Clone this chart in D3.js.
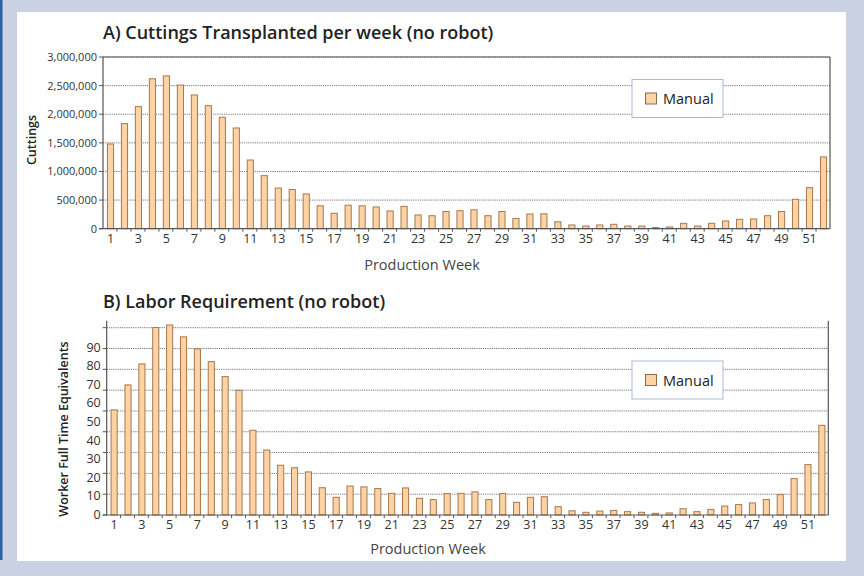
<!DOCTYPE html>
<html>
<head>
<meta charset="utf-8">
<script src="https://cdn.jsdelivr.net/npm/d3@7"></script>
<style>
  html, body { margin: 0; padding: 0; background: #c9d1e3; }
  svg { display: block; }
  text { font-family: "Open Sans", Lato, sans-serif; }
</style>
</head>
<body>
<svg id="chart" width="864" height="576"></svg>
<script>
// ---- Data ----
const weeks = d3.range(1, 53);
const cuttings = [
  1480000, 1836000, 2133000, 2620000, 2670000, 2510000, 2337000, 2150000, 1947000, 1760000,
  1200000, 927000, 710000, 685000, 607000, 400000, 270000, 410000, 400000, 380000,
  310000, 390000, 240000, 227000, 300000, 315000, 330000, 227000, 300000, 180000,
  257000, 260000, 120000, 65000, 47000, 65000, 77000, 47000, 47000, 20000,
  30000, 94000, 47000, 94000, 135000, 164000, 170000, 227000, 300000, 514000,
  717000, 1254000
];
const labor = [
  50.5, 62.5, 72.6, 90.1, 91.3, 85.6, 79.8, 73.7, 66.5, 59.9,
  40.7, 31.2, 23.9, 22.7, 20.7, 13.1, 8.5, 13.9, 13.5, 12.7,
  10.4, 13.0, 8.0, 7.4, 10.3, 10.4, 11.1, 7.4, 10.3, 6.1,
  8.5, 8.8, 4.0, 2.0, 1.3, 1.9, 2.2, 1.6, 1.3, 0.8,
  1.0, 3.0, 1.6, 2.7, 4.3, 5.0, 5.8, 7.4, 9.8, 17.5,
  24.2, 43.1
];
const cuttingTicks = [0, 500000, 1000000, 1500000, 2000000, 2500000, 3000000];
const laborGridTicks = [0, 10, 20, 30, 40, 50, 60, 70, 80, 90];
const laborLabelTicks = [0, 10, 20, 30, 40, 50, 60, 70, 80, 90];
const weekLabels = weeks.filter(w => w % 2 === 1);
const seriesName = "Manual";
const titleA = "A) Cuttings Transplanted per week (no robot)";
const titleB = "B) Labor Requirement (no robot)";
const yTitleA = "Cuttings";
const yTitleB = "Worker Full Time Equivalents";
const xTitle = "Production Week";

// ---- Styles ----
const barFill = "#fdd3a5";
const barStroke = "#a8774a";
const axisColor = "#555";
const gridColor = "#777";
const textColor = "#333";

const svg = d3.select("#chart");

// background and panel
svg.append("rect").attr("x", 0).attr("y", 0).attr("width", 864).attr("height", 576).attr("fill", "#c9d1e3");
svg.append("rect").attr("x", 0).attr("y", 0).attr("width", 2.5).attr("height", 560).attr("fill", "#2a62a3");
svg.append("rect").attr("x", 17).attr("y", 12).attr("width", 829).attr("height", 549).attr("fill", "#ffffff");

function drawPanel(cfg) {
  const g = svg.append("g");
  const x = d3.scaleBand().domain(weeks).range([cfg.left, cfg.right]).paddingInner(0.56).paddingOuter(0.28);
  const y = d3.scaleLinear().domain(cfg.yDomain).range([cfg.bottom, cfg.gridTopY]);

  // gridlines
  g.append("g").selectAll("line").data(cfg.gridTicks.filter(t => t > 0)).join("line")
    .attr("x1", cfg.left).attr("x2", cfg.right)
    .attr("y1", d => y(d)).attr("y2", d => y(d))
    .attr("stroke", gridColor).attr("stroke-width", 1)
    .attr("stroke-dasharray", "1.2,1");

  // bars
  g.append("g").selectAll("rect").data(cfg.values).join("rect")
    .attr("x", (d, i) => x(weeks[i]) + 0.5)
    .attr("y", d => y(d))
    .attr("width", x.bandwidth())
    .attr("height", d => cfg.bottom - y(d))
    .attr("fill", barFill)
    .attr("stroke", barStroke)
    .attr("stroke-width", 1);

  // frame / axes lines
  g.append("line").attr("x1", cfg.left).attr("x2", cfg.left).attr("y1", cfg.top).attr("y2", cfg.bottom)
    .attr("stroke", axisColor).attr("stroke-width", 1.2);
  g.append("line").attr("x1", cfg.right).attr("x2", cfg.right).attr("y1", cfg.top).attr("y2", cfg.bottom)
    .attr("stroke", axisColor).attr("stroke-width", 1.2);
  g.append("line").attr("x1", cfg.left - 4).attr("x2", cfg.right).attr("y1", cfg.bottom).attr("y2", cfg.bottom)
    .attr("stroke", axisColor).attr("stroke-width", 1.2);
  if (cfg.topBorder) {
    g.append("line").attr("x1", cfg.left).attr("x2", cfg.right).attr("y1", cfg.top).attr("y2", cfg.top)
      .attr("stroke", axisColor).attr("stroke-width", 1.2);
  }

  // x tick marks at band boundaries
  const step = x.step();
  g.append("g").selectAll("line").data(weeks.slice(1)).join("line")
    .attr("x1", d => x(d) - step * x.paddingInner() / 2)
    .attr("x2", d => x(d) - step * x.paddingInner() / 2)
    .attr("y1", cfg.bottom).attr("y2", cfg.bottom + 3)
    .attr("stroke", axisColor).attr("stroke-width", 1);

  // y tick marks
  g.append("g").selectAll("line").data(cfg.gridTicks).join("line")
    .attr("x1", cfg.left - 4).attr("x2", cfg.left)
    .attr("y1", d => y(d)).attr("y2", d => y(d))
    .attr("stroke", axisColor).attr("stroke-width", 1);

  // x labels
  g.append("g").selectAll("text").data(weekLabels).join("text")
    .attr("x", d => x(d) + x.bandwidth() / 2 + 0.5)
    .attr("y", cfg.bottom + 14)
    .attr("text-anchor", "middle")
    .attr("font-size", 12.5)
    .attr("fill", textColor)
    .text(d => d);

  // y labels
  const yl = cfg.labelScale || y;
  g.append("g").selectAll("text").data(cfg.labelTicks).join("text")
    .attr("x", cfg.left - 6)
    .attr("y", d => yl(d) + 4)
    .attr("text-anchor", "end")
    .attr("font-size", cfg.yLabelSize)
    .attr("fill", textColor)
    .text(d => cfg.fmt(d));

  // titles
  g.append("text").attr("x", 103).attr("y", cfg.titleY)
    .attr("font-size", 18).attr("font-weight", 600).attr("fill", "#222")
    .text(cfg.title);
  g.append("text").attr("x", cfg.xTitleX).attr("y", cfg.xTitleY)
    .attr("text-anchor", "middle").attr("font-size", 14.5).attr("fill", "#444")
    .text(xTitle);
  g.append("text")
    .attr("transform", `translate(${cfg.yTitleX},${cfg.yTitleY}) rotate(-90)`)
    .attr("text-anchor", "middle").attr("font-size", 12.5).attr("font-weight", 600).attr("fill", "#222")
    .text(cfg.yTitle);

  // legend
  const lg = g.append("g").attr("transform", `translate(632,${cfg.legendY})`);
  lg.append("rect").attr("x", 0).attr("y", 0).attr("width", 91).attr("height", 38)
    .attr("fill", "#fff").attr("stroke", "#a9b9dc").attr("stroke-width", 1);
  lg.append("rect").attr("x", 13.5).attr("y", 13.5).attr("width", 11).attr("height", 11)
    .attr("fill", barFill).attr("stroke", "#8a6a4a").attr("stroke-width", 1);
  lg.append("text").attr("x", 31).attr("y", 24.5).attr("font-size", 14.5).attr("fill", "#222").text(seriesName);
}

drawPanel({
  left: 103, right: 830, top: 57, bottom: 228.7, gridTopY: 57,
  yDomain: [0, 3000000], values: cuttings, gridTicks: cuttingTicks, labelTicks: cuttingTicks,
  fmt: d3.format(","), yLabelSize: 11, topBorder: true,
  title: titleA, titleY: 39, xTitleX: 422, xTitleY: 270, yTitle: yTitleA, yTitleX: 36, yTitleY: 140,
  legendY: 79.5
});

drawPanel({
  left: 106.7, right: 828.3, top: 320.7, bottom: 515, gridTopY: 327.7,
  yDomain: [0, 90], values: labor, gridTicks: laborGridTicks, labelTicks: laborLabelTicks,
  labelScale: d3.scaleLinear().domain([0, 90]).range([515, 347.7]),
  fmt: d => d, yLabelSize: 12.5, topBorder: false,
  title: titleB, titleY: 308, xTitleX: 428, xTitleY: 554, yTitle: yTitleB, yTitleX: 68, yTitleY: 429,
  legendY: 361
});
</script>
</body>
</html>
